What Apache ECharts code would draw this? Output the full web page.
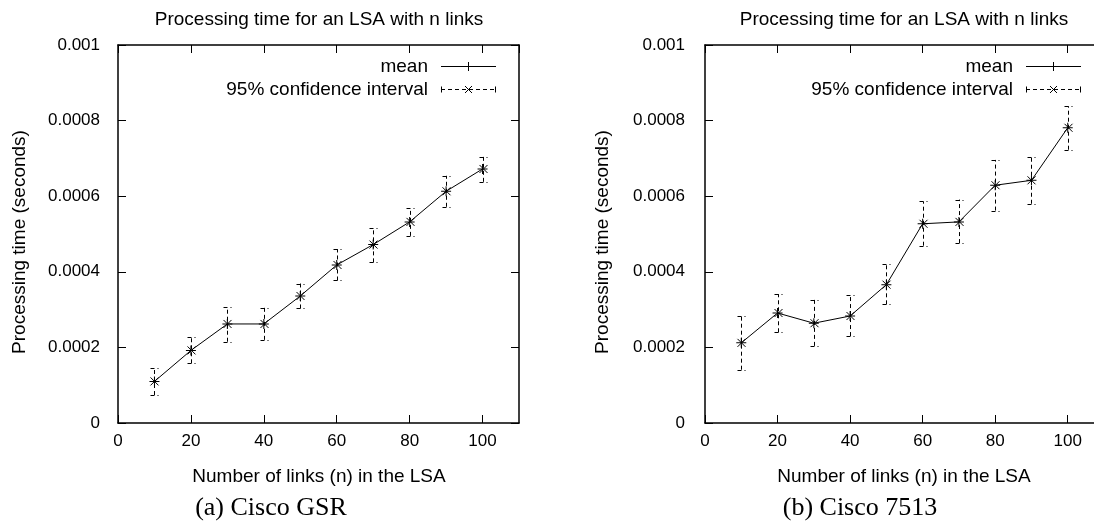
<!DOCTYPE html>
<html>
<head>
<meta charset="utf-8">
<script src="https://cdn.jsdelivr.net/npm/echarts@6/dist/echarts.min.js"></script>
<style>
  html, body { margin: 0; padding: 0; background: #fff; }
  #chart { width: 1094px; height: 523px; }
</style>
</head>
<body>
<div id="chart"></div>
<script>
// Number of links in the LSA
const linksN = [10, 20, 30, 40, 50, 60, 70, 80, 90, 100];

// (a) Cisco GSR: mean processing time and 95% confidence bounds (seconds)
const gsrMean = [0.000110, 0.000192, 0.000262, 0.000262, 0.000336, 0.000418, 0.000472, 0.000532, 0.000613, 0.000672];
const gsrLow  = [0.000074, 0.000158, 0.000215, 0.000220, 0.000303, 0.000377, 0.000425, 0.000495, 0.000572, 0.000638];
const gsrHigh = [0.000145, 0.000227, 0.000307, 0.000305, 0.000369, 0.000460, 0.000517, 0.000568, 0.000654, 0.000704];

// (b) Cisco 7513
const c7513Mean = [0.000212, 0.000291, 0.000264, 0.000283, 0.000366, 0.000527, 0.000532, 0.000629, 0.000642, 0.000781];
const c7513Low  = [0.000141, 0.000240, 0.000204, 0.000230, 0.000314, 0.000469, 0.000476, 0.000562, 0.000580, 0.000723];
const c7513High = [0.000283, 0.000341, 0.000326, 0.000338, 0.000420, 0.000586, 0.000591, 0.000696, 0.000704, 0.000838];

const yTicks = [0, 0.0002, 0.0004, 0.0006, 0.0008, 0.001];
const xTicks = [0, 20, 40, 60, 80, 100];

const titleText = 'Processing time for an LSA with n links';
const xName = 'Number of links (n) in the LSA';
const yName = 'Processing time (seconds)';
const captions = ['(a) Cisco GSR', '(b) Cisco 7513'];
const legendNames = ['mean', '95% confidence interval'];

const SANS = '"Liberation Sans", Arial, Helvetica, sans-serif';
const SERIF = '"Liberation Serif", "Times New Roman", serif';
const TICK_FS = 17;
const NAME_FS = 19;

const panels = [
  { left: 118, width: 401, mean: gsrMean, low: gsrLow, high: gsrHigh, cx: 319, capX: 271, yNameX: 20, labMargin: 18, rightFrame: true },
  { left: 705, width: 399, mean: c7513Mean, low: c7513Low, high: c7513High, cx: 904, capX: 860, yNameX: 603, labMargin: 20, rightFrame: false }
];
const TOP = 45, HEIGHT = 378;

const chart = echarts.init(document.getElementById('chart'), null, { renderer: 'canvas' });

const grids = [], xAxes = [], yAxes = [], series = [], graphics = [];

const fmtY = v => (Math.abs(v) < 1e-12 ? '0' : String(parseFloat(v.toFixed(4))));

// small filled "+" used as the point symbol of the mean curve
const PLUS = 'path://M4.5,0H5.5V10H4.5ZM0,4.5H10V5.5H0Z';

panels.forEach((p, i) => {
  grids.push({ left: p.left, top: TOP, width: p.width, height: HEIGHT, containLabel: false, outerBoundsMode: 'none' });
  const frameLine = { show: true, onZero: false, lineStyle: { color: '#000', width: 1.5 } };
  const tick = { show: true, inside: true, length: 8, lineStyle: { color: '#000', width: 1 } };
  // bottom / left axes carry the labels; top / right mirror the ticks
  xAxes.push({
    type: 'value', gridIndex: i, position: 'bottom', min: 0, max: 110, interval: 20,
    axisLine: frameLine, axisTick: tick, splitLine: { show: false },
    axisLabel: { color: '#000', fontFamily: SANS, fontSize: TICK_FS, margin: 10, showMaxLabel: false,
      formatter: v => (xTicks.indexOf(v) >= 0 ? String(v) : '') }
  });
  xAxes.push({
    type: 'value', gridIndex: i, position: 'top', min: 0, max: 110, interval: 20,
    axisLine: frameLine, axisTick: tick, splitLine: { show: false }, axisLabel: { show: false }
  });
  yAxes.push({
    type: 'value', gridIndex: i, position: 'left', min: 0, max: 0.001, interval: 0.0002,
    axisLine: frameLine, axisTick: tick, splitLine: { show: false },
    axisLabel: { color: '#000', fontFamily: SANS, fontSize: TICK_FS, margin: p.labMargin, formatter: fmtY }
  });
  yAxes.push({
    type: 'value', gridIndex: i, position: 'right', min: 0, max: 0.001, interval: 0.0002,
    axisLine: Object.assign({}, frameLine, { show: p.rightFrame }),
    axisTick: Object.assign({}, tick, { show: p.rightFrame }),
    splitLine: { show: false }, axisLabel: { show: false }
  });

  const xi = i * 2, yi = i * 2;

  // 95% confidence interval: dashed error bars with an "x" at the mean
  series.push({
    type: 'custom', name: legendNames[1], xAxisIndex: xi, yAxisIndex: yi, z: 3, silent: true,
    data: linksN.map((n, k) => [n, p.low[k], p.high[k], p.mean[k]]),
    renderItem: (params, api) => {
      const x = api.value(0);
      const lo = api.coord([x, api.value(1)]);
      const hi = api.coord([x, api.value(2)]);
      const m = api.coord([x, api.value(3)]);
      const px = Math.round(lo[0]) + 0.5;
      const dash = { stroke: '#000', lineWidth: 1, lineDash: [4, 3], fill: null };
      const solid = { stroke: '#000', lineWidth: 1, fill: null };
      const c = 4, s = 4;
      return {
        type: 'group',
        children: [
          { type: 'line', shape: { x1: px, y1: lo[1], x2: px, y2: hi[1] }, style: dash },
          { type: 'line', shape: { x1: px - c, y1: Math.round(lo[1]) + 0.5, x2: px + c, y2: Math.round(lo[1]) + 0.5 }, style: dash },
          { type: 'line', shape: { x1: px - c, y1: Math.round(hi[1]) + 0.5, x2: px + c, y2: Math.round(hi[1]) + 0.5 }, style: dash },
          { type: 'line', shape: { x1: px - s, y1: m[1] - s, x2: px + s, y2: m[1] + s }, style: solid },
          { type: 'line', shape: { x1: px - s, y1: m[1] + s, x2: px + s, y2: m[1] - s }, style: solid }
        ]
      };
    }
  });

  // mean: solid line with "+" points
  series.push({
    type: 'line', name: legendNames[0], xAxisIndex: xi, yAxisIndex: yi, z: 4, silent: true,
    data: linksN.map((n, k) => [n, p.mean[k]]),
    symbol: PLUS, symbolSize: 10, showSymbol: true,
    itemStyle: { color: '#000' },
    lineStyle: { color: '#000', width: 1 },
    animation: false
  });

  // titles and captions
  graphics.push({ type: 'text', x: p.cx, y: 20, style: { text: titleText, font: `${NAME_FS}px ${SANS}`, fill: '#000', align: 'center', verticalAlign: 'middle' } });
  graphics.push({ type: 'text', x: p.cx, y: 477, style: { text: xName, font: `${NAME_FS}px ${SANS}`, fill: '#000', align: 'center', verticalAlign: 'middle' } });
  graphics.push({ type: 'text', x: p.yNameX, y: 242, rotation: Math.PI / 2, style: { text: yName, font: `${NAME_FS}px ${SANS}`, fill: '#000', align: 'center', verticalAlign: 'middle' } });
  graphics.push({ type: 'text', x: p.capX, y: 508, style: { text: captions[i], font: `26px ${SERIF}`, fill: '#000', align: 'center', verticalAlign: 'middle' } });

  // key
  const right = p.left + p.width;
  const tx = right - 91, l0 = right - 78, l1 = right - 23, lm = (l0 + l1) / 2;
  const y0 = 66.5, y1 = 89.5;
  graphics.push({ type: 'text', x: tx, y: y0, style: { text: legendNames[0], font: `${NAME_FS}px ${SANS}`, fill: '#000', align: 'right', verticalAlign: 'middle' } });
  graphics.push({ type: 'line', shape: { x1: l0, y1: y0, x2: l1, y2: y0 }, style: { stroke: '#000', lineWidth: 1 } });
  graphics.push({ type: 'line', shape: { x1: lm, y1: y0 - 4.5, x2: lm, y2: y0 + 4.5 }, style: { stroke: '#000', lineWidth: 1 } });
  graphics.push({ type: 'text', x: tx, y: y1, style: { text: legendNames[1], font: `${NAME_FS}px ${SANS}`, fill: '#000', align: 'right', verticalAlign: 'middle' } });
  graphics.push({ type: 'line', shape: { x1: l0, y1: y1, x2: l1, y2: y1 }, style: { stroke: '#000', lineWidth: 1, lineDash: [4, 3] } });
  graphics.push({ type: 'line', shape: { x1: l0 + 0.5, y1: y1 - 3, x2: l0 + 0.5, y2: y1 + 3 }, style: { stroke: '#000', lineWidth: 1 } });
  graphics.push({ type: 'line', shape: { x1: l1 - 0.5, y1: y1 - 3, x2: l1 - 0.5, y2: y1 + 3 }, style: { stroke: '#000', lineWidth: 1 } });
  graphics.push({ type: 'line', shape: { x1: lm - 3.5, y1: y1 - 3.5, x2: lm + 3.5, y2: y1 + 3.5 }, style: { stroke: '#000', lineWidth: 1 } });
  graphics.push({ type: 'line', shape: { x1: lm - 3.5, y1: y1 + 3.5, x2: lm + 3.5, y2: y1 - 3.5 }, style: { stroke: '#000', lineWidth: 1 } });
});

chart.setOption({
  animation: false,
  backgroundColor: '#fff',
  grid: grids,
  xAxis: xAxes,
  yAxis: yAxes,
  series: series,
  graphic: graphics
});
</script>
</body>
</html>
